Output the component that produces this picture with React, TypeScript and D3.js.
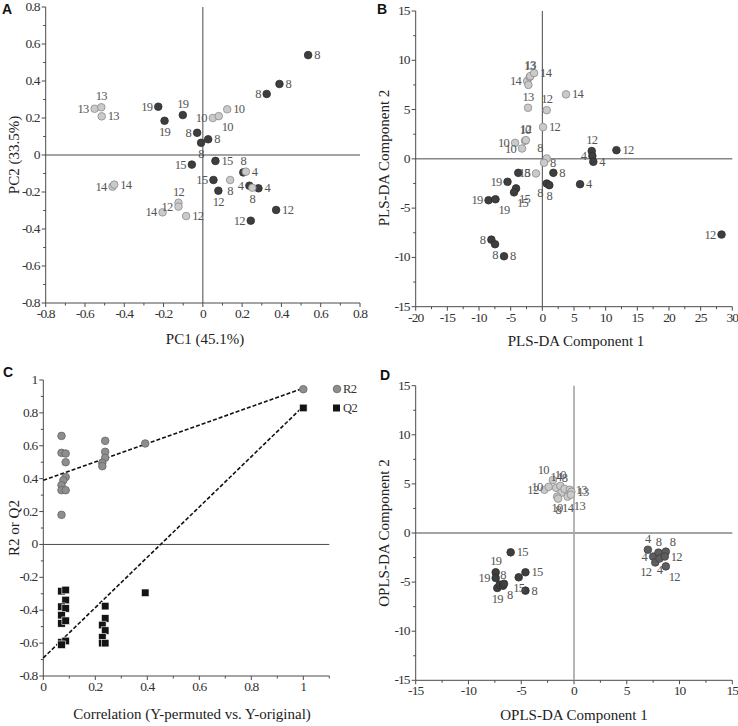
import React from 'react';
import * as d3 from 'd3';

// [x, y, group, label, label side]
type Pt = [number, number, string, string, string];

const pcaPoints: Pt[] = [
  [0.536, 0.54, 'd', '8', 'r'],
  [0.39, 0.384, 'd', '8', 'r'],
  [0.325, 0.33, 'd', '8', 'l'],
  [-0.227, 0.261, 'd', '19', 'l'],
  [-0.195, 0.185, 'd', '19', 'b'],
  [-0.102, 0.216, 'd', '19', 't'],
  [-0.029, 0.12, 'd', '8', 'l'],
  [-0.009, 0.066, 'd', '8', 'b'],
  [0.027, 0.085, 'd', '8', 'r'],
  [-0.056, -0.052, 'd', '15', 'l'],
  [0.064, -0.032, 'd', '15', 'r'],
  [0.054, -0.135, 'd', '15', 'l'],
  [0.079, -0.193, 'd', '12', 'b'],
  [0.206, -0.094, 'd', '8', 't'],
  [0.237, -0.166, 'd', '4', 'l'],
  [0.283, -0.18, 'd', '4', 'r'],
  [0.373, -0.297, 'd', '12', 'r'],
  [0.244, -0.355, 'd', '12', 'l'],
  [-0.551, 0.25, 'l', '13', 'l'],
  [-0.517, 0.258, 'l', '13', 't'],
  [-0.515, 0.209, 'l', '13', 'r'],
  [0.051, 0.2, 'l', '10', 'l'],
  [0.081, 0.21, 'l', '10', 'br'],
  [0.124, 0.247, 'l', '10', 'r'],
  [0.219, -0.09, 'l', '4', 'r'],
  [0.139, -0.135, 'l', '8', 'b'],
  [0.252, -0.177, 'l', '8', 'b'],
  [-0.46, -0.171, 'l', '14', 'l'],
  [-0.451, -0.16, 'l', '14', 'r'],
  [-0.124, -0.258, 'l', '12', 't'],
  [-0.124, -0.279, 'l', '12', 'l'],
  [-0.205, -0.31, 'l', '14', 'l'],
  [-0.085, -0.33, 'l', '12', 'r'],
];

const plsPoints: Pt[] = [
  [-2.4, 7.9, 'l', '14', 'l'],
  [-2.2, 7.5, 'l', '', ''],
  [-2.0, 8.3, 'l', '13', 't'],
  [-1.9, 8.4, 'l', '13', 't'],
  [-1.3, 8.7, 'l', '14', 'r'],
  [3.74, 6.54, 'l', '14', 'r'],
  [-2.26, 5.18, 'l', '13', 't'],
  [0.69, 4.94, 'l', '12', 't'],
  [0.11, 3.22, 'l', '12', 'r'],
  [-2.73, 1.83, 'l', '10', 't'],
  [-2.6, 1.9, 'l', '12', 't'],
  [-4.3, 1.62, 'l', '10', 'l'],
  [-3.2, 1.05, 'l', '10', 'l'],
  [0.69, 0.04, 'l', '8', 'tl'],
  [0.27, -0.4, 'l', '8', 'r'],
  [-1.0, -1.48, 'l', '15', 'l'],
  [-3.8, -1.42, 'd', '8', 'r'],
  [1.74, -1.42, 'd', '8', 'r'],
  [0.69, -2.5, 'd', '8', 'bl'],
  [1.1, -2.67, 'd', '8', 'b'],
  [-5.5, -2.33, 'd', '19', 'l'],
  [-4.15, -3.0, 'd', '15', 'br'],
  [-4.47, -3.4, 'd', '15', 'br'],
  [-8.5, -4.2, 'd', '19', 'l'],
  [-7.4, -4.1, 'd', '19', 'br'],
  [5.96, -2.57, 'd', '4', 'r'],
  [28.3, -7.68, 'd', '12', 'l'],
  [-8.05, -8.2, 'd', '8', 'l'],
  [-7.47, -8.66, 'd', '8', 'b'],
  [-6.05, -9.88, 'd', '8', 'r'],
  [7.8, 0.8, 'd', '12', 't'],
  [7.9, 0.3, 'd', '4', 'l'],
  [8.05, -0.3, 'd', '4', 'r'],
  [11.7, 0.88, 'd', '12', 'r'],
];

const r2Points: [number, number][] = [
  [0.07, 0.66], [0.07, 0.557], [0.086, 0.553], [0.086, 0.5], [0.086, 0.41],
  [0.077, 0.39], [0.07, 0.36], [0.07, 0.33], [0.086, 0.33], [0.07, 0.18],
  [0.238, 0.63], [0.238, 0.563], [0.238, 0.527], [0.227, 0.496], [0.227, 0.476],
  [0.392, 0.614], [1.0, 0.944],
];

const q2Points: [number, number][] = [
  [1.0, 0.83], [0.07, -0.284], [0.086, -0.277], [0.086, -0.338], [0.07, -0.379],
  [0.086, -0.389], [0.07, -0.43], [0.07, -0.48], [0.086, -0.464], [0.07, -0.595],
  [0.086, -0.587], [0.07, -0.61], [0.238, -0.375], [0.238, -0.45], [0.227, -0.49],
  [0.238, -0.524], [0.227, -0.565], [0.227, -0.6], [0.238, -0.6], [0.392, -0.294],
];

const r2Line: [number, number][] = [[0, 0.39], [1, 0.95]];
const q2Line: [number, number][] = [[0, -0.69], [1, 0.84]];

const oplsPoints: Pt[] = [
  [-2.0, 5.4, 'l', '10', 'tl'],
  [-2.8, 4.4, 'l', '12', 'l'],
  [-2.4, 4.7, 'l', '10', 'l'],
  [-1.7, 4.6, 'l', '14', 't'],
  [-1.3, 4.8, 'l', '10', 't'],
  [-1.2, 4.1, 'l', '', ''],
  [-0.9, 4.5, 'l', '8', 't'],
  [-1.6, 3.7, 'l', '10', 'b'],
  [-1.5, 3.5, 'l', '8', 'b'],
  [-0.6, 3.7, 'l', '14', 'b'],
  [-0.4, 4.4, 'l', '13', 'r'],
  [-0.25, 4.2, 'l', '13', 'r'],
  [-0.3, 3.9, 'l', '13', 'br'],
  [-6.0, -1.97, 'd', '15', 'r'],
  [-7.42, -4.0, 'd', '19', 't'],
  [-7.42, -4.58, 'd', '19', 'l'],
  [-7.27, -5.6, 'd', '19', 'b'],
  [-7.04, -5.26, 'd', '', ''],
  [-6.73, -5.37, 'd', '8', 't'],
  [-6.63, -5.17, 'd', '8', 'br'],
  [-5.24, -4.51, 'd', '15', 'b'],
  [-4.6, -4.0, 'd', '15', 'r'],
  [-4.6, -5.87, 'd', '8', 'r'],
  [7.0, -1.7, 'm', '4', 't'],
  [7.5, -2.4, 'm', '4', 'l'],
  [7.7, -3.0, 'm', '12', 'bl'],
  [8.0, -2.0, 'm', '8', 't'],
  [8.1, -2.6, 'm', '4', 'b'],
  [8.7, -1.9, 'm', '8', 'tr'],
  [8.6, -2.4, 'm', '12', 'r'],
  [8.7, -3.4, 'm', '12', 'br'],
];

const SERIF = "'Liberation Serif', 'Times New Roman', serif";
const SANS = "'Liberation Sans', Arial, sans-serif";
const AX = '#4a4a4a';
const R = 3.8;

const fill: Record<string, string> = { d: '#3e3e3e', l: '#cacaca', m: '#5e5e5e' };
const stroke: Record<string, string> = { d: '#2c2c2c', l: '#8c8c8c', m: '#404040' };

const fmt = (v: number) => String(Math.round(v * 100) / 100);

type Lin = d3.ScaleLinear<number, number>;

const tickStyle = { fontFamily: SERIF, fontSize: 13.5, letterSpacing: -0.9 };
const labelStyle = { fontFamily: SERIF, fontSize: 12.5, letterSpacing: -0.7 };

function Axes({ x, y, xStep, yStep, xMax }: { x: Lin; y: Lin; xStep: number; yStep: number; xMax?: number }) {
  const [x0, x1] = x.range();
  const [y0, y1] = y.range();
  const [dx0, dx1] = x.domain();
  const [dy0, dy1] = y.domain();
  const xt = d3.range(dx0, (xMax ?? dx1) + xStep / 2, xStep);
  const yt = d3.range(dy0, dy1 + yStep / 2, yStep);
  const xm = d3.range(dx0 + xStep / 2, dx1 + 1e-9, xStep);
  const ym = d3.range(dy0 + yStep / 2, dy1, yStep);
  return (
    <g stroke={AX} strokeWidth={1}>
      <line x1={x0} x2={x0} y1={y1} y2={y0} />
      <line x1={x0} x2={x1} y1={y0} y2={y0} />
      {xt.map((v) => <line key={'xt' + v} x1={x(v)} x2={x(v)} y1={y0} y2={y0 + 4} />)}
      {xm.map((v) => <line key={'xm' + v} x1={x(v)} x2={x(v)} y1={y0} y2={y0 + 2.5} />)}
      {yt.map((v) => <line key={'yt' + v} x1={x0 - 4} x2={x0} y1={y(v)} y2={y(v)} />)}
      {ym.map((v) => <line key={'ym' + v} x1={x0 - 2.5} x2={x0} y1={y(v)} y2={y(v)} />)}
      {xt.map((v) => (
        <text key={'xl' + v} x={x(v)} y={y0 + 15} textAnchor="middle" stroke="none" fill="#333" style={tickStyle}>{fmt(v)}</text>
      ))}
      {yt.map((v) => (
        <text key={'yl' + v} x={x0 - 6} y={y(v) + 4} textAnchor="end" stroke="none" fill="#333" style={tickStyle}>{fmt(v)}</text>
      ))}
    </g>
  );
}

function labelPos(side: string, px: number, py: number): [number, number, 'start' | 'middle' | 'end'] {
  switch (side) {
    case 'l': return [px - 6, py + 4, 'end'];
    case 'r': return [px + 6, py + 4, 'start'];
    case 't': return [px, py - 7, 'middle'];
    case 'b': return [px, py + 15, 'middle'];
    case 'tl': return [px - 4, py - 6, 'end'];
    case 'tr': return [px + 4, py - 6, 'start'];
    case 'bl': return [px - 4, py + 14, 'end'];
    default: return [px + 3, py + 15, 'start'];
  }
}

function Scatter({ pts, x, y }: { pts: Pt[]; x: Lin; y: Lin }) {
  return (
    <g>
      {pts.map((p, i) => (
        <circle key={i} cx={x(p[0])} cy={y(p[1])} r={R} fill={fill[p[2]]} stroke={stroke[p[2]]} strokeWidth={0.8} />
      ))}
      {pts.filter((p) => p[3]).map((p, i) => {
        const [lx, ly, a] = labelPos(p[4], x(p[0]), y(p[1]));
        return <text key={'t' + i} x={lx} y={ly} textAnchor={a} fill="#555" style={labelStyle}>{p[3]}</text>;
      })}
    </g>
  );
}

function Titles({ letter, lx, ly, xt, xtX, xtY, yt, ytX, ytY }: any) {
  const ts = { fontFamily: SERIF, fontSize: 15 };
  return (
    <g>
      <text x={lx} y={ly} fill="#111" style={{ fontFamily: SANS, fontWeight: 'bold', fontSize: 14 }}>{letter}</text>
      <text x={xtX} y={xtY} textAnchor="middle" fill="#222" style={ts}>{xt}</text>
      <text transform={`translate(${ytX},${ytY}) rotate(-90)`} textAnchor="middle" fill="#222" style={ts}>{yt}</text>
    </g>
  );
}

export default function App() {
  // Panel A
  const ax = d3.scaleLinear().domain([-0.8, 0.8]).range([45.7, 360]);
  const ay = d3.scaleLinear().domain([-0.8, 0.8]).range([303, 7]);
  // Panel B
  const bx = d3.scaleLinear().domain([-20, 30]).range([415.7, 732.3]);
  const by = d3.scaleLinear().domain([-15, 15]).range([306.7, 11]);
  // Panel C
  const cx = d3.scaleLinear().domain([0, 1.1]).range([43.3, 329.3]);
  const cy = d3.scaleLinear().domain([-0.8, 1]).range([676, 380]);
  // Panel D
  const dx = d3.scaleLinear().domain([-15, 15]).range([415.7, 732.3]);
  const dy = d3.scaleLinear().domain([-15, 15]).range([680.3, 385.7]);

  const line = d3.line<[number, number]>().x((d) => cx(d[0])).y((d) => cy(d[1]));
  const legendText = { fontFamily: SERIF, fontSize: 12.5, letterSpacing: -0.6 };

  return (
    <svg width={738} height={726} style={{ position: 'absolute', left: 0, top: 0, background: '#fff' }}>
      <rect width={738} height={726} fill="#fff" />

      {/* A */}
      <Axes x={ax} y={ay} xStep={0.2} yStep={0.2} />
      <line x1={ax.range()[0]} x2={ax.range()[1]} y1={ay(0)} y2={ay(0)} stroke={AX} />
      <line x1={ax(0)} x2={ax(0)} y1={ay.range()[1]} y2={ay.range()[0]} stroke={AX} />
      <Scatter pts={pcaPoints} x={ax} y={ay} />
      <Titles letter="A" lx={2} ly={14} xt="PC1 (45.1%)" xtX={205} xtY={344} yt="PC2 (33.5%)" ytX={19} ytY={155} />

      {/* B */}
      <Axes x={bx} y={by} xStep={5} yStep={5} />
      <line x1={bx.range()[0]} x2={bx.range()[1]} y1={by(0)} y2={by(0)} stroke={AX} />
      <line x1={bx(0)} x2={bx(0)} y1={by.range()[1]} y2={by.range()[0]} stroke={AX} />
      <Scatter pts={plsPoints} x={bx} y={by} />
      <Titles letter="B" lx={377} ly={14} xt="PLS-DA Component 1" xtX={576} xtY={346} yt="PLS-DA Component 2" ytX={389} ytY={158} />

      {/* C */}
      <Axes x={cx} y={cy} xStep={0.2} yStep={0.2} xMax={1} />
      <line x1={cx.range()[0]} x2={cx.range()[1]} y1={cy(0)} y2={cy(0)} stroke={AX} />
      <path d={line(r2Line) || ''} fill="none" stroke="#111" strokeWidth={1.6} strokeDasharray="4,2" />
      <path d={line(q2Line) || ''} fill="none" stroke="#111" strokeWidth={1.6} strokeDasharray="4,2" />
      {r2Points.map((p, i) => (
        <circle key={'r' + i} cx={cx(p[0])} cy={cy(p[1])} r={R} fill="#8e8e8e" stroke="#666" strokeWidth={0.8} />
      ))}
      {q2Points.map((p, i) => (
        <rect key={'q' + i} x={cx(p[0]) - 3.8} y={cy(p[1]) - 3.8} width={7.6} height={7.6} fill="#141414" stroke="#fff" strokeWidth={0.6} />
      ))}
      <circle cx={337} cy={389} r={R} fill="#8e8e8e" stroke="#666" strokeWidth={0.8} />
      <text x={343} y={393} fill="#333" style={legendText}>R2</text>
      <rect x={333} y={404.5} width={7} height={7} fill="#141414" />
      <text x={343} y={412} fill="#333" style={legendText}>Q2</text>
      <Titles letter="C" lx={3} ly={377} xt="Correlation (Y-permuted vs. Y-original)" xtX={192} xtY={719} yt="R2 or Q2" ytX={19} ytY={528} />

      {/* D */}
      <Axes x={dx} y={dy} xStep={5} yStep={5} />
      <line x1={dx.range()[0]} x2={dx.range()[1]} y1={dy(0)} y2={dy(0)} stroke={AX} />
      <line x1={dx(0)} x2={dx(0)} y1={dy.range()[1]} y2={dy.range()[0]} stroke="#a4a4a4" strokeWidth={1.6} />
      <Scatter pts={oplsPoints} x={dx} y={dy} />
      <Titles letter="D" lx={380} ly={380} xt="OPLS-DA Component 1" xtX={574} xtY={720} yt="OPLS-DA Component 2" ytX={389} ytY={533} />
    </svg>
  );
}
